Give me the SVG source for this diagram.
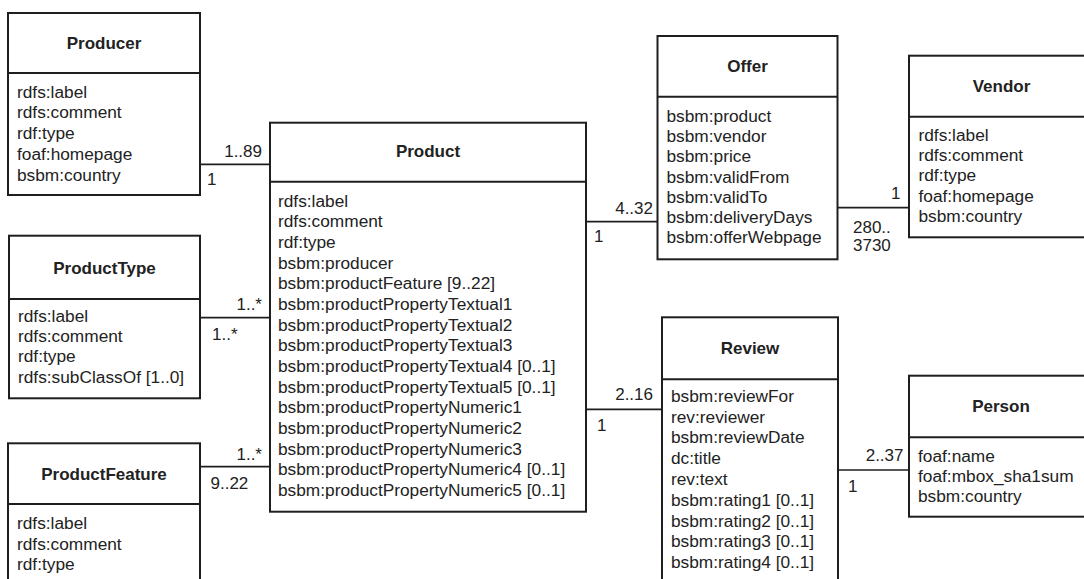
<svg xmlns="http://www.w3.org/2000/svg" width="1084" height="579" viewBox="0 0 1084 579">
<style>
.box{fill:#fff;stroke:#1e1e1e;stroke-width:2}
.div{stroke:#1e1e1e;stroke-width:2}
.title{font-family:"Liberation Sans",Arial,sans-serif;font-size:17px;font-weight:bold;fill:#222;text-anchor:middle}
.attr{font-family:"Liberation Sans",Arial,sans-serif;font-size:17.3px;fill:#222}
.lbl{font-family:"Liberation Sans",Arial,sans-serif;font-size:17px;fill:#222}
.end{text-anchor:end}
.conn{stroke:#1e1e1e;stroke-width:1.7;fill:none}
</style>
<rect width="1084" height="579" fill="#fff"/>
<g id="connectors">
<line class="conn" x1="200" y1="164.3" x2="270" y2="164.3"/>
<line class="conn" x1="200" y1="317.7" x2="270" y2="317.7"/>
<line class="conn" x1="200" y1="466.7" x2="270" y2="466.7"/>
<line class="conn" x1="586" y1="221.7" x2="657.5" y2="221.7"/>
<line class="conn" x1="837.5" y1="207.7" x2="909" y2="207.7"/>
<line class="conn" x1="586" y1="409.3" x2="662" y2="409.3"/>
<line class="conn" x1="838" y1="470" x2="909" y2="470"/>
<text class="lbl end" x="262" y="157">1..89</text>
<text class="lbl" x="207" y="185">1</text>
<text class="lbl end" x="262" y="310">1..*</text>
<text class="lbl" x="212" y="340">1..*</text>
<text class="lbl end" x="262" y="459.5">1..*</text>
<text class="lbl" x="210.5" y="488.5">9..22</text>
<text class="lbl end" x="653" y="213.5">4..32</text>
<text class="lbl" x="594" y="242">1</text>
<text class="lbl end" x="900.5" y="198.5">1</text>
<text class="lbl" x="853" y="232.5">280..</text>
<text class="lbl" x="853" y="251">3730</text>
<text class="lbl end" x="653" y="400">2..16</text>
<text class="lbl" x="597" y="431">1</text>
<text class="lbl end" x="903.5" y="461">2..37</text>
<text class="lbl" x="848" y="492">1</text>
</g>
<g id="producer">
<rect class="box" x="8" y="13" width="192" height="182"/>
<line class="div" x1="8" y1="73" x2="200" y2="73"/>
<text class="title" x="104" y="48.5">Producer</text>
<text class="attr" x="17" y="97.5"><tspan x="17">rdfs:label</tspan><tspan x="17" dy="20.8">rdfs:comment</tspan><tspan x="17" dy="20.8">rdf:type</tspan><tspan x="17" dy="20.8">foaf:homepage</tspan><tspan x="17" dy="20.8">bsbm:country</tspan></text>
</g>
<g id="producttype">
<rect class="box" x="9" y="235.7" width="191" height="162.6"/>
<line class="div" x1="9" y1="299" x2="200" y2="299"/>
<text class="title" x="104.5" y="273.5">ProductType</text>
<text class="attr" x="18" y="321.5"><tspan x="18">rdfs:label</tspan><tspan x="18" dy="20.4">rdfs:comment</tspan><tspan x="18" dy="20.4">rdf:type</tspan><tspan x="18" dy="20.4">rdfs:subClassOf [1..0]</tspan></text>
</g>
<g id="productfeature">
<rect class="box" x="8" y="443.3" width="192" height="150"/>
<line class="div" x1="8" y1="504" x2="200" y2="504"/>
<text class="title" x="104" y="479.5">ProductFeature</text>
<text class="attr" x="17" y="529.3"><tspan x="17">rdfs:label</tspan><tspan x="17" dy="20.2">rdfs:comment</tspan><tspan x="17" dy="20.2">rdf:type</tspan></text>
</g>
<g id="product">
<rect class="box" x="270" y="122.7" width="316" height="389"/>
<line class="div" x1="270" y1="181.7" x2="586" y2="181.7"/>
<text class="title" x="428" y="157">Product</text>
<text class="attr" x="278" y="206.7"><tspan x="278">rdfs:label</tspan><tspan x="278" dy="20.66">rdfs:comment</tspan><tspan x="278" dy="20.66">rdf:type</tspan><tspan x="278" dy="20.66">bsbm:producer</tspan><tspan x="278" dy="20.66">bsbm:productFeature [9..22]</tspan><tspan x="278" dy="20.66">bsbm:productPropertyTextual1</tspan><tspan x="278" dy="20.66">bsbm:productPropertyTextual2</tspan><tspan x="278" dy="20.66">bsbm:productPropertyTextual3</tspan><tspan x="278" dy="20.66">bsbm:productPropertyTextual4 [0..1]</tspan><tspan x="278" dy="20.66">bsbm:productPropertyTextual5 [0..1]</tspan><tspan x="278" dy="20.66">bsbm:productPropertyNumeric1</tspan><tspan x="278" dy="20.66">bsbm:productPropertyNumeric2</tspan><tspan x="278" dy="20.66">bsbm:productPropertyNumeric3</tspan><tspan x="278" dy="20.66">bsbm:productPropertyNumeric4 [0..1]</tspan><tspan x="278" dy="20.66">bsbm:productPropertyNumeric5 [0..1]</tspan></text>
</g>
<g id="offer">
<rect class="box" x="657.5" y="36" width="180" height="223.3"/>
<line class="div" x1="657.5" y1="96.7" x2="837.5" y2="96.7"/>
<text class="title" x="747.5" y="72">Offer</text>
<text class="attr" x="666.5" y="121.7"><tspan x="666.5">bsbm:product</tspan><tspan x="666.5" dy="20.27">bsbm:vendor</tspan><tspan x="666.5" dy="20.27">bsbm:price</tspan><tspan x="666.5" dy="20.27">bsbm:validFrom</tspan><tspan x="666.5" dy="20.27">bsbm:validTo</tspan><tspan x="666.5" dy="20.27">bsbm:deliveryDays</tspan><tspan x="666.5" dy="20.27">bsbm:offerWebpage</tspan></text>
</g>
<g id="vendor">
<rect class="box" x="909" y="55.7" width="186" height="181.6"/>
<line class="div" x1="909" y1="116.7" x2="1095" y2="116.7"/>
<text class="title" x="1001.5" y="92">Vendor</text>
<text class="attr" x="918.5" y="140.5"><tspan x="918.5">rdfs:label</tspan><tspan x="918.5" dy="20.4">rdfs:comment</tspan><tspan x="918.5" dy="20.4">rdf:type</tspan><tspan x="918.5" dy="20.4">foaf:homepage</tspan><tspan x="918.5" dy="20.4">bsbm:country</tspan></text>
</g>
<g id="review">
<rect class="box" x="662" y="317.3" width="176" height="280"/>
<line class="div" x1="662" y1="379.3" x2="838" y2="379.3"/>
<text class="title" x="750" y="353.5">Review</text>
<text class="attr" x="671" y="401.7"><tspan x="671">bsbm:reviewFor</tspan><tspan x="671" dy="20.8">rev:reviewer</tspan><tspan x="671" dy="20.8">bsbm:reviewDate</tspan><tspan x="671" dy="20.8">dc:title</tspan><tspan x="671" dy="20.8">rev:text</tspan><tspan x="671" dy="20.8">bsbm:rating1 [0..1]</tspan><tspan x="671" dy="20.8">bsbm:rating2 [0..1]</tspan><tspan x="671" dy="20.8">bsbm:rating3 [0..1]</tspan><tspan x="671" dy="20.8">bsbm:rating4 [0..1]</tspan></text>
</g>
<g id="person">
<rect class="box" x="909" y="375.7" width="186" height="141"/>
<line class="div" x1="909" y1="437.3" x2="1095" y2="437.3"/>
<text class="title" x="1001" y="412">Person</text>
<text class="attr" x="918" y="461.7"><tspan x="918">foaf:name</tspan><tspan x="918" dy="20">foaf:mbox_sha1sum</tspan><tspan x="918" dy="20">bsbm:country</tspan></text>
</g>
</svg>
